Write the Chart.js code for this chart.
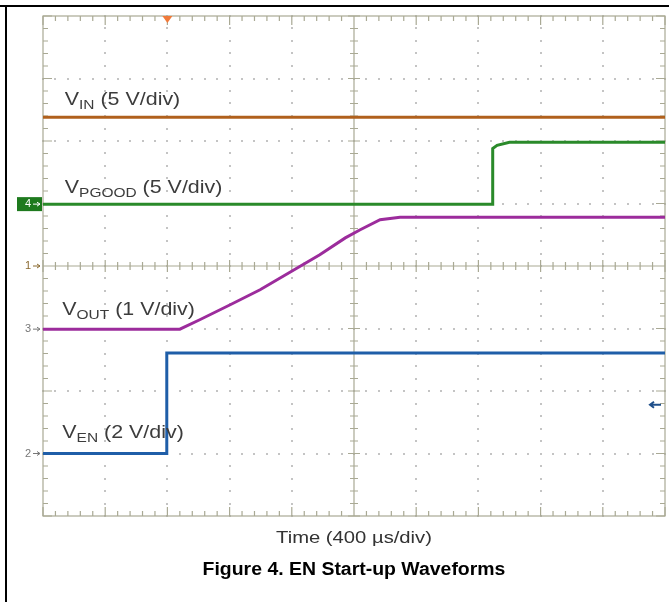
<!DOCTYPE html>
<html>
<head>
<meta charset="utf-8">
<script src="https://cdn.jsdelivr.net/npm/chart.js@4/dist/chart.umd.min.js"></script>
<style>
  html, body { margin: 0; padding: 0; background: #fff; }
  canvas { display: block; }
</style>
</head>
<body>
<canvas id="scope" width="669" height="602"></canvas>
<script>
// values in scope divisions (x: 10 div of 400 us, y: 8 div, 0 = centre)
const vinX = [0, 10];
const vinY = [2.38, 2.38];
const pgoodX = [0, 7.23, 7.23, 7.3, 7.5, 10];
const pgoodY = [0.99, 0.99, 1.88, 1.93, 1.98, 1.98];
const voutX = [0, 2.2, 2.52, 3.01, 3.49, 3.97, 4.45, 4.86, 5.10, 5.42, 5.74, 10];
const voutY = [-1.01, -1.01, -0.86, -0.62, -0.38, -0.10, 0.18, 0.45, 0.58, 0.74, 0.78, 0.78];
const enX = [0, 1.99, 1.99, 10];
const enY = [-3.0, -3.0, -1.39, -1.39];

const labels = [
  { main: 'V', sub: 'IN', rest: ' (5 V/div)', x: 0.35, y: 2.58 },
  { main: 'V', sub: 'PGOOD', rest: ' (5 V/div)', x: 0.35, y: 1.17 },
  { main: 'V', sub: 'OUT', rest: ' (1 V/div)', x: 0.31, y: -0.78 },
  { main: 'V', sub: 'EN', rest: ' (2 V/div)', x: 0.31, y: -2.75 }
];

const FONT = '"Liberation Sans", Arial, sans-serif';
const STRETCH = 1.19;

function pts(xs, ys) {
  return xs.map(function (x, i) { return { x: x, y: ys[i] }; });
}

// scope screenshot text is a little wide, so draw it stretched
function wideText(ctx, t, x, y, sx) {
  ctx.save();
  ctx.translate(x, y);
  ctx.scale(sx, 1);
  ctx.fillText(t, 0, 0);
  ctx.restore();
  return ctx.measureText(t).width * sx;
}

const scopeGrid = {
  id: 'scopeGrid',
  beforeDatasetsDraw: function (chart) {
    const ctx = chart.ctx;
    const a = chart.chartArea;
    const xs = chart.scales.x, ys = chart.scales.y;
    ctx.save();
    // dotted grid
    ctx.fillStyle = '#c4c4c4';
    for (let i = 1; i < 10; i++) {
      if (i === 5) continue;
      const px = xs.getPixelForValue(i);
      for (let j = 0; j <= 40; j++) {
        ctx.fillRect(Math.round(px) - 1, Math.round(ys.getPixelForValue(-4 + j * 0.2)) - 1, 2, 2);
      }
    }
    for (let i = 1; i < 8; i++) {
      if (i === 4) continue;
      const py = ys.getPixelForValue(-4 + i);
      for (let j = 0; j <= 50; j++) {
        ctx.fillRect(Math.round(xs.getPixelForValue(j * 0.2)) - 1, Math.round(py) - 1, 2, 2);
      }
    }
    // centre cross and border
    ctx.strokeStyle = '#a9a994';
    ctx.lineWidth = 1.2;
    const cx = xs.getPixelForValue(5), cy = ys.getPixelForValue(0);
    ctx.beginPath();
    ctx.moveTo(cx, a.top); ctx.lineTo(cx, a.bottom);
    ctx.moveTo(a.left, cy); ctx.lineTo(a.right, cy);
    ctx.strokeRect(a.left, a.top, a.right - a.left, a.bottom - a.top);
    for (let j = 0; j <= 50; j++) {
      const px = xs.getPixelForValue(j * 0.2);
      const big = j % 5 === 0;
      ctx.moveTo(px, a.top); ctx.lineTo(px, a.top + (big ? 9 : 5));
      ctx.moveTo(px, a.bottom); ctx.lineTo(px, a.bottom - (big ? 9 : 5));
      ctx.moveTo(px, cy - (big ? 6 : 4)); ctx.lineTo(px, cy + (big ? 6 : 4));
    }
    for (let j = 0; j <= 40; j++) {
      const py = ys.getPixelForValue(-4 + j * 0.2);
      const big = j % 5 === 0;
      ctx.moveTo(a.left, py); ctx.lineTo(a.left + (big ? 9 : 5), py);
      ctx.moveTo(a.right, py); ctx.lineTo(a.right - (big ? 9 : 5), py);
      ctx.moveTo(cx - (big ? 6 : 4), py); ctx.lineTo(cx + (big ? 6 : 4), py);
    }
    ctx.stroke();
    ctx.restore();
  },
  afterDraw: function (chart) {
    const ctx = chart.ctx;
    const xs = chart.scales.x, ys = chart.scales.y;
    ctx.save();
    // outer frame
    ctx.fillStyle = '#000';
    ctx.fillRect(0, 5, 669, 2);
    ctx.fillRect(5, 5, 2, 597);
    // trigger marker
    const tx = xs.getPixelForValue(2);
    ctx.fillStyle = '#f07a3a';
    ctx.beginPath();
    ctx.moveTo(tx - 5, chart.chartArea.top);
    ctx.lineTo(tx + 5, chart.chartArea.top);
    ctx.lineTo(tx, chart.chartArea.top + 7);
    ctx.fill();
    // trace labels
    ctx.fillStyle = '#3c3c3c';
    ctx.textBaseline = 'alphabetic';
    labels.forEach(function (l) {
      let x = xs.getPixelForValue(l.x);
      const y = ys.getPixelForValue(l.y);
      ctx.font = '18px ' + FONT;
      x += wideText(ctx, l.main, x, y, STRETCH);
      ctx.font = '13px ' + FONT;
      x += wideText(ctx, l.sub, x, y + 4, STRETCH);
      ctx.font = '18px ' + FONT;
      wideText(ctx, l.rest, x, y, STRETCH);
    });
    // channel markers
    const marks = [
      { t: '4', y: pgoodY[0], c: '#fff', box: '#1e7a1e' },
      { t: '1', y: 0, c: '#8a6a30' },
      { t: '3', y: voutY[0], c: '#777' },
      { t: '2', y: enY[0], c: '#777' }
    ];
    ctx.font = '11px ' + FONT;
    ctx.textBaseline = 'middle';
    marks.forEach(function (m) {
      const py = ys.getPixelForValue(m.y);
      if (m.box) {
        ctx.fillStyle = m.box;
        ctx.fillRect(17, py - 7, 25, 14);
      }
      ctx.fillStyle = m.c;
      ctx.strokeStyle = m.c;
      ctx.fillText(m.t, 25, py);
      ctx.lineWidth = 1;
      ctx.beginPath();
      ctx.moveTo(33, py); ctx.lineTo(40, py);
      ctx.moveTo(37, py - 2); ctx.lineTo(40, py); ctx.lineTo(37, py + 2);
      ctx.stroke();
    });
    // right-hand arrow
    const ay = ys.getPixelForValue(-2.22);
    ctx.strokeStyle = '#1f4f8a';
    ctx.lineWidth = 2;
    ctx.beginPath();
    ctx.moveTo(661, ay); ctx.lineTo(650, ay);
    ctx.moveTo(654, ay - 3); ctx.lineTo(650, ay); ctx.lineTo(654, ay + 3);
    ctx.stroke();
    // axis title and caption
    ctx.textBaseline = 'middle';
    ctx.fillStyle = '#333';
    ctx.font = '17px ' + FONT;
    let w = ctx.measureText('Time (400 \u00b5s/div)').width * STRETCH;
    wideText(ctx, 'Time (400 \u00b5s/div)', 354 - w / 2, 538, STRETCH);
    ctx.fillStyle = '#000';
    ctx.font = 'bold 18px ' + FONT;
    w = ctx.measureText('Figure 4. EN Start-up Waveforms').width * 1.08;
    wideText(ctx, 'Figure 4. EN Start-up Waveforms', 354 - w / 2, 570, 1.08);
    ctx.restore();
  }
};

new Chart(document.getElementById('scope'), {
  type: 'line',
  data: {
    datasets: [
      { label: 'VIN', data: pts(vinX, vinY), borderColor: '#b0601c' },
      { label: 'VPGOOD', data: pts(pgoodX, pgoodY), borderColor: '#2a8a2a' },
      { label: 'VOUT', data: pts(voutX, voutY), borderColor: '#9c2c9c' },
      { label: 'VEN', data: pts(enX, enY), borderColor: '#1f5ea8' }
    ]
  },
  options: {
    responsive: false,
    animation: false,
    devicePixelRatio: 1,
    layout: { padding: { left: 43, top: 16, right: 4, bottom: 86 } },
    elements: {
      point: { radius: 0 },
      line: { borderWidth: 3, tension: 0 }
    },
    scales: {
      x: { type: 'linear', min: 0, max: 10, display: false },
      y: { type: 'linear', min: -4, max: 4, display: false }
    },
    plugins: { legend: { display: false }, tooltip: { enabled: false } }
  },
  plugins: [scopeGrid]
});
</script>
</body>
</html>
